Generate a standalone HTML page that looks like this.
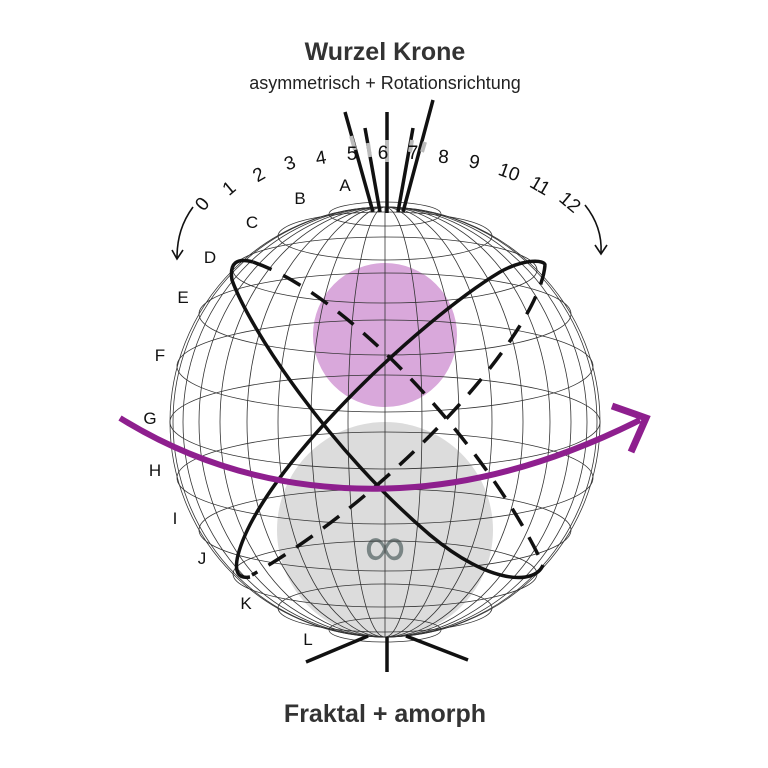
<!DOCTYPE html>
<html><head><meta charset="utf-8"><style>
body{margin:0;background:#fff;width:768px;height:768px;overflow:hidden}
svg{display:block}
text{font-family:"Liberation Sans",sans-serif;fill:#111}
</style></head><body>
<svg width="768" height="768" viewBox="0 0 768 768">
<text x="385" y="60" text-anchor="middle" font-size="25" font-weight="bold" style="fill:#333">Wurzel Krone</text>
<text x="385" y="89" text-anchor="middle" font-size="18" style="fill:#222">asymmetrisch + Rotationsrichtung</text>
<text x="385" y="722" text-anchor="middle" font-size="25" font-weight="bold" style="fill:#333">Fraktal + amorph</text>

<circle cx="385" cy="335" r="72" fill="#d9a8db"/>
<circle cx="385" cy="530" r="108" fill="#dcdcdc"/>
<text x="385" y="566" text-anchor="middle" font-size="58" style="fill:#7a8585">∞</text>

<g fill="none" stroke="#333" stroke-width="0.8">
<ellipse cx="385" cy="422" rx="215" ry="215"/>
<ellipse cx="385" cy="422" rx="212" ry="215"/>
<ellipse cx="385" cy="422" rx="202" ry="215"/>
<ellipse cx="385" cy="422" rx="186" ry="215"/>
<ellipse cx="385" cy="422" rx="165" ry="215"/>
<ellipse cx="385" cy="422" rx="138" ry="215"/>
<ellipse cx="385" cy="422" rx="107" ry="215"/>
<ellipse cx="385" cy="422" rx="74" ry="215"/>
<ellipse cx="385" cy="422" rx="37" ry="215"/>
<line x1="385" y1="207" x2="385" y2="637"/>
<ellipse cx="385" cy="422" rx="215" ry="47"/>
<ellipse cx="385" cy="366" rx="208" ry="46"/>
<ellipse cx="385" cy="314" rx="186" ry="41"/>
<ellipse cx="385" cy="270" rx="152" ry="33"/>
<ellipse cx="385" cy="236" rx="107" ry="24"/>
<ellipse cx="385" cy="214" rx="56" ry="12"/>
<ellipse cx="385" cy="478" rx="208" ry="46"/>
<ellipse cx="385" cy="530" rx="186" ry="41"/>
<ellipse cx="385" cy="574" rx="152" ry="33"/>
<ellipse cx="385" cy="608" rx="107" ry="24"/>
<ellipse cx="385" cy="630" rx="56" ry="12"/>
</g>

<g fill="none" stroke="#111" stroke-width="3.5">
<path d="M253,262 Q228,255 232,280 C250,330 330,450 430,535 C490,585 535,585 543,565"/>
<path d="M253,262 C350,295 490,450 543,565" stroke-dasharray="20,13"/>
<path d="M250,577 Q232,580 238,555 C260,470 420,320 500,272 C525,258 545,260 545,265"/>
<path d="M545,265 C540,330 400,490 252,575" stroke-dasharray="20,13"/>
</g>

<path d="M120,418 C220,480 320,492 400,488 C480,484 560,460 640,420" fill="none" stroke="#8e1f8e" stroke-width="6"/>
<path d="M612,406 L646,418 L631,452" fill="none" stroke="#8e1f8e" stroke-width="7"/>

<g stroke="#111" stroke-width="3.5">
<line x1="345" y1="112" x2="373" y2="212"/>
<line x1="365" y1="128" x2="380" y2="212"/>
<line x1="387" y1="112" x2="387" y2="213"/>
<line x1="413" y1="128" x2="398" y2="212"/>
<line x1="433" y1="100" x2="403" y2="212"/>
<line x1="387" y1="637" x2="387" y2="672"/>
<line x1="368" y1="636" x2="306" y2="662"/>
<line x1="406" y1="636" x2="468" y2="660"/>
</g>
<g stroke="#bbb" stroke-width="4">
<line x1="351" y1="136" x2="355" y2="150"/>
<line x1="368" y1="143" x2="370" y2="157"/>
<line x1="387" y1="140" x2="387" y2="162"/>
<line x1="412" y1="140" x2="410" y2="152"/>
<line x1="425" y1="142" x2="422" y2="152"/>
</g>

<g font-size="19">
<text transform="translate(207,208) rotate(-50)" text-anchor="middle">0</text>
<text transform="translate(233,193) rotate(-40)" text-anchor="middle">1</text>
<text transform="translate(262,180) rotate(-30)" text-anchor="middle">2</text>
<text transform="translate(292,169) rotate(-20)" text-anchor="middle">3</text>
<text transform="translate(322,164) rotate(-10)" text-anchor="middle">4</text>
<text x="352" y="160" text-anchor="middle">5</text>
<text x="383" y="159" text-anchor="middle">6</text>
<text x="413" y="159" text-anchor="middle">7</text>
<text transform="translate(443,163) rotate(5)" text-anchor="middle">8</text>
<text transform="translate(473,168) rotate(12)" text-anchor="middle">9</text>
<text transform="translate(507,178) rotate(20)" text-anchor="middle">10</text>
<text transform="translate(537,191) rotate(30)" text-anchor="middle">11</text>
<text transform="translate(566,207) rotate(40)" text-anchor="middle">12</text>
</g>
<g font-size="17" text-anchor="middle">
<text x="345" y="191">A</text>
<text x="300" y="204">B</text>
<text x="252" y="228">C</text>
<text x="210" y="263">D</text>
<text x="183" y="303">E</text>
<text x="160" y="361">F</text>
<text x="150" y="424">G</text>
<text x="155" y="476">H</text>
<text x="175" y="524">I</text>
<text x="202" y="564">J</text>
<text x="246" y="609">K</text>
<text x="308" y="645">L</text>
</g>

<g fill="none" stroke="#111" stroke-width="1.6">
<path d="M193,207 C182,222 177,238 177,258"/>
<path d="M172,250 L177,259 L183,250"/>
<path d="M585,205 C597,220 602,236 601,253"/>
<path d="M595,245 L601,254 L607,245"/>
</g>
</svg>
</body></html>
